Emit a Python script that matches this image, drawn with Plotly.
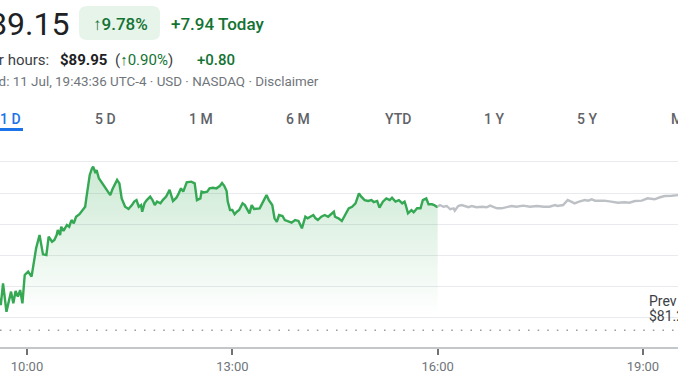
import plotly.graph_objects as go

DAY = "2024-07-11"

# Regular session (green)
session_times = [
    "09:36", "09:37", "09:39", "09:42", "09:46", "09:48", "09:50", "09:52", "09:54", "09:56",
    "09:58", "10:01", "10:04", "10:06", "10:08", "10:11", "10:12", "10:14", "10:17", "10:19",
    "10:22", "10:24", "10:26", "10:27", "10:29", "10:30", "10:32", "10:35", "10:37", "10:39",
    "10:41", "10:43", "10:46", "10:49", "10:51", "10:52", "10:55", "10:57", "10:58", "11:00",
    "11:01", "11:03", "11:05", "11:08", "11:11", "11:13", "11:15", "11:16", "11:19", "11:21",
    "11:23", "11:26", "11:29", "11:32", "11:34", "11:36", "11:38", "11:40", "11:41", "11:43",
    "11:45", "11:48", "11:50", "11:52", "11:54", "11:57", "11:59", "12:02", "12:05", "12:08",
    "12:11", "12:13", "12:15", "12:17", "12:20", "12:24", "12:27", "12:29", "12:32", "12:33",
    "12:35", "12:38", "12:40", "12:43", "12:46", "12:49", "12:51", "12:53", "12:55", "12:56",
    "12:58", "13:00", "13:02", "13:04", "13:06", "13:09", "13:11", "13:15", "13:17", "13:19",
    "13:22", "13:24", "13:27", "13:30", "13:32", "13:35", "13:37", "13:39", "13:41", "13:44",
    "13:46", "13:49", "13:52", "13:55", "13:58", "14:01", "14:04", "14:06", "14:08", "14:11",
    "14:13", "14:15", "14:18", "14:21", "14:24", "14:27", "14:29", "14:30", "14:33", "14:36",
    "14:39", "14:42", "14:45", "14:48", "14:51", "14:53", "14:56", "14:59", "15:02", "15:04",
    "15:07", "15:09", "15:12", "15:15", "15:18", "15:20", "15:23", "15:26", "15:29", "15:31",
    "15:32", "15:34", "15:37", "15:39", "15:42", "15:45", "15:47", "15:50", "15:52", "15:55",
    "15:57", "15:59", "16:00",
]
session_prices = [
    83.26, 82.83, 84.22, 82.40, 83.69, 82.94, 83.73, 83.37, 83.79, 82.94,
    84.76, 84.97, 84.65, 85.61, 86.47, 87.32, 86.79, 86.08, 86.04, 87.21,
    86.89, 87.00, 87.32, 87.64, 87.32, 87.85, 87.58, 87.96, 87.85, 88.28,
    88.07, 88.49, 88.65, 88.92, 89.13, 89.67, 91.17, 91.60, 91.70, 91.28,
    91.49, 90.96, 90.74, 90.42, 90.10, 89.88, 90.27, 90.42, 90.85, 90.63,
    89.67, 89.13, 88.99, 89.24, 89.46, 89.56, 89.13, 89.24, 88.81, 89.35,
    89.56, 89.78, 89.56, 89.24, 89.46, 89.35, 89.56, 89.78, 90.21, 89.50,
    89.71, 89.99, 90.31, 90.10, 90.70, 90.74, 90.63, 89.56, 89.67, 90.10,
    90.05, 90.10, 90.31, 90.35, 90.31, 90.46, 90.65, 90.46, 90.14, 89.46,
    88.92, 88.92, 88.65, 88.81, 88.92, 89.35, 89.24, 88.71, 89.24, 88.99,
    89.03, 89.03, 89.46, 89.88, 89.56, 89.24, 88.39, 88.17, 88.60, 88.54,
    88.28, 88.17, 88.11, 88.28, 88.22, 87.75, 88.49, 88.39, 88.49, 88.60,
    88.39, 88.28, 88.49, 88.60, 88.49, 88.71, 88.81, 88.49, 88.39, 88.22,
    88.60, 89.03, 89.13, 89.35, 89.99, 89.78, 89.56, 89.50, 89.56, 89.42,
    89.50, 89.07, 89.46, 89.67, 89.56, 89.71, 89.46, 89.56, 89.35, 89.46,
    89.24, 88.71, 88.92, 88.78, 89.03, 89.03, 89.56, 89.67, 89.29, 89.29,
    89.24, 89.13, 89.15,
]

# After-hours (grey)
after_times = [
    "16:00", "16:02", "16:05", "16:08", "16:11", "16:14", "16:15", "16:18", "16:21", "16:24",
    "16:27", "16:30", "16:34", "16:39", "16:43", "16:46", "16:49", "16:52", "16:56", "17:01",
    "17:05", "17:09", "17:15", "17:21", "17:27", "17:33", "17:38", "17:43", "17:45", "17:50",
    "17:54", "17:57", "18:00", "18:04", "18:09", "18:12", "18:15", "18:18", "18:22", "18:26",
    "18:32", "18:38", "18:44", "18:48", "18:53", "18:59", "19:04", "19:10", "19:15", "19:19",
    "19:25", "19:31", "19:37", "19:43",
]
after_prices = [
    89.15, 89.24, 89.13, 89.18, 88.97, 89.03, 88.88, 89.18, 89.24, 89.18,
    89.10, 89.18, 89.10, 89.13, 89.10, 89.20, 89.13, 89.03, 89.03, 89.10,
    89.18, 89.13, 89.20, 89.13, 89.18, 89.13, 89.13, 89.24, 89.18, 89.24,
    89.56, 89.46, 89.35, 89.46, 89.56, 89.52, 89.61, 89.52, 89.52, 89.52,
    89.46, 89.39, 89.42, 89.39, 89.50, 89.52, 89.67, 89.61, 89.74, 89.82,
    89.84, 89.88, 89.92, 89.95,
]

prev_close = 81.21
fill_base = 82.2
grid_levels = [82, 84, 86, 88, 90, 92]
x_tick_labels = ["10:00", "13:00", "16:00", "19:00"]
tabs = ["1 D", "5 D", "1 M", "6 M", "YTD", "1 Y", "5 Y", "MAX"]

def ts(t):
    return f"{DAY} {t}"

sx = [ts(t) for t in session_times]
ax = [ts(t) for t in after_times]

W, H = 678, 381
ML, MR, MT, MB = 0, 0, 140, 34
PH = H - MT - MB
PW = W - ML - MR

def px(x):
    return (x - ML) / PW

def py(y):
    return (H - MB - y) / PH

GREEN = "#34a853"
TGREEN = "#137333"

fig = go.Figure()

fig.add_trace(go.Scatter(
    x=[sx[0], sx[-1]], y=[fill_base, fill_base], mode="lines",
    line=dict(width=0, color="rgba(0,0,0,0)"), hoverinfo="skip", showlegend=False,
))
fig.add_trace(go.Scatter(
    x=sx, y=session_prices, mode="lines",
    line=dict(color=GREEN, width=2.4),
    fill="tonexty",
    fillgradient=dict(type="vertical", start=fill_base, stop=92,
                      colorscale=[[0, "rgba(52,168,83,0.0)"], [1, "rgba(52,168,83,0.26)"]]),
    hoverinfo="skip", showlegend=False,
))
fig.add_trace(go.Scatter(
    x=ax, y=after_prices, mode="lines",
    line=dict(color="#bdc1c6", width=2.4),
    hoverinfo="skip", showlegend=False,
))

shapes = [
    dict(type="line", xref="paper", yref="y", x0=0, x1=1, y0=prev_close, y1=prev_close,
         line=dict(color="#9aa0a6", width=1.6, dash="1.6px,8px")),
    dict(type="rect", xref="paper", yref="paper", x0=px(-3), x1=px(23), y0=py(131), y1=py(128),
         fillcolor="#1a73e8", line=dict(width=0)),
]
# rounded pill for the change badge
x0, x1, y0, y1, r = 79, 160, 6, 40, 8
path = (f"M {px(x0+r)},{py(y0)} L {px(x1-r)},{py(y0)} Q {px(x1)},{py(y0)} {px(x1)},{py(y0+r)} "
        f"L {px(x1)},{py(y1-r)} Q {px(x1)},{py(y1)} {px(x1-r)},{py(y1)} "
        f"L {px(x0+r)},{py(y1)} Q {px(x0)},{py(y1)} {px(x0)},{py(y1-r)} "
        f"L {px(x0)},{py(y0+r)} Q {px(x0)},{py(y0)} {px(x0+r)},{py(y0)} Z")
shapes.append(dict(type="path", xref="paper", yref="paper", path=path,
                   fillcolor="#e6f4ea", line=dict(width=0), layer="below"))

FONT = "Roboto, Arial, sans-serif"

def ann(text, x, y, size, color, xanchor="left", weight=None):
    f = dict(family=FONT, size=size, color=color)
    if weight:
        f["weight"] = weight
    return dict(text=text, x=px(x), y=py(y), xref="paper", yref="paper",
                xanchor=xanchor, yanchor="middle", showarrow=False, font=f)

annotations = [
    ann("$89.15", 71, 24, 32, "#202124", "right"),
    ann("↑9.78%", 120.5, 24, 17, TGREEN, "center", 500),
    ann("+7.94 Today", 169, 24, 17, TGREEN, "left", 500),
    ann("After hours:", 51, 60, 15, "#3c4043", "right"),
    ann("$89.95", 58, 60, 15, "#202124", "left", 700),
    ann(f"(<span style='color:{TGREEN}'>↑0.90%</span>)", 113, 60, 15, "#3c4043", "left"),
    ann("+0.80", 195, 60, 15, TGREEN, "left", 500),
    ann("Closed: 11 Jul, 19:43:36 UTC-4 · USD · NASDAQ · Disclaimer", 321, 81, 13.4, "#70757a", "right"),
    ann("Prev close", 647, 301, 14, "#3c4043", "left"),
    ann("$81.21", 647, 316, 14, "#3c4043", "left"),
]
tab_centers = [10, 105.5, 201, 298, 398, 494, 587, 687]
for i, (t, c) in enumerate(zip(tabs, tab_centers)):
    annotations.append(ann(t, c, 119, 14, "#1a73e8" if i == 0 else "#5f6368", "center", 500))

fig.update_layout(
    width=W, height=H,
    margin=dict(l=ML, r=MR, t=MT, b=MB),
    paper_bgcolor="white", plot_bgcolor="white",
    showlegend=False, hovermode=False,
    shapes=shapes, annotations=annotations,
    xaxis=dict(
        type="date",
        range=[f"{DAY} 09:36:20", f"{DAY} 19:30:42"],
        tickvals=[ts(t) for t in x_tick_labels], ticktext=x_tick_labels,
        showgrid=False, zeroline=False,
        showline=True, linecolor="#c4c7c9", linewidth=2,
        ticks="outside", ticklen=6, tickwidth=1.5, tickcolor="#6f7378",
        tickfont=dict(family=FONT, size=13, color="#70757a"),
        fixedrange=True,
    ),
    yaxis=dict(
        range=[80.14, 93.41],
        tickvals=grid_levels, showticklabels=False,
        showgrid=True, gridcolor="#e8eaed", gridwidth=1,
        zeroline=False, showline=False, fixedrange=True,
    ),
)

fig.write_html(
    "out.html",
    config={"displayModeBar": False},
    post_script="document.body.style.margin='0';document.body.style.overflow='hidden';",
)
